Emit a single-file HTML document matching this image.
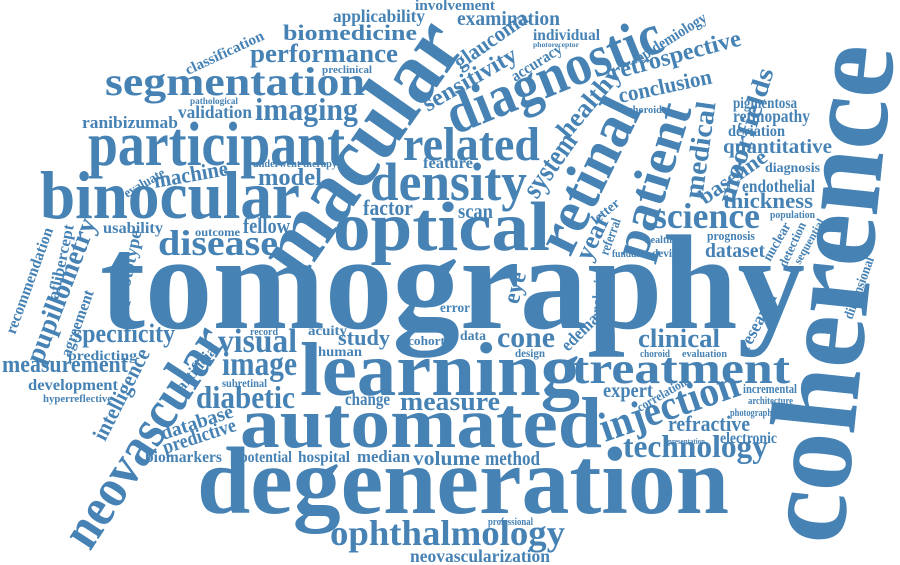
<!DOCTYPE html>
<html><head><meta charset="utf-8"><style>
html,body{margin:0;padding:0;background:#fff;width:900px;height:565px;overflow:hidden}
svg{display:block}
text{font-family:"Liberation Serif",serif;font-weight:bold;fill:#4682b4}
</style></head><body>
<svg width="900" height="565" viewBox="0 0 900 565">
<g>
<text x="100" y="328" font-size="135" textLength="705" lengthAdjust="spacingAndGlyphs">tomography</text>
<text transform="translate(842,546) rotate(-84)" font-size="122" textLength="500" lengthAdjust="spacingAndGlyphs">coherence</text>
<text x="197" y="513" font-size="95" textLength="532" lengthAdjust="spacingAndGlyphs">degeneration</text>
<text x="240" y="447" font-size="72" textLength="362" lengthAdjust="spacingAndGlyphs">automated</text>
<text x="300" y="395" font-size="76" textLength="280" lengthAdjust="spacingAndGlyphs">learning</text>
<text x="572" y="383" font-size="44" textLength="218" lengthAdjust="spacingAndGlyphs">treatment</text>
<text transform="translate(300,283) rotate(-55)" font-size="88" textLength="290" lengthAdjust="spacingAndGlyphs">macular</text>
<text x="40" y="218" font-size="68" textLength="260" lengthAdjust="spacingAndGlyphs">binocular</text>
<text x="88" y="165" font-size="62" textLength="257" lengthAdjust="spacingAndGlyphs">participant</text>
<text x="333" y="250" font-size="70" textLength="217" lengthAdjust="spacingAndGlyphs">optical</text>
<text transform="translate(455,135) rotate(-22)" font-size="58" textLength="228" lengthAdjust="spacingAndGlyphs">diagnostic</text>
<text transform="translate(570,258) rotate(-64)" font-size="60" textLength="165" lengthAdjust="spacingAndGlyphs">retinal</text>
<text x="370" y="200" font-size="54" textLength="157" lengthAdjust="spacingAndGlyphs">density</text>
<text x="403" y="160" font-size="48" textLength="137" lengthAdjust="spacingAndGlyphs">related</text>
<text transform="translate(645,262) rotate(-73)" font-size="52" textLength="160" lengthAdjust="spacingAndGlyphs">patient</text>
<text x="105" y="95" font-size="40" textLength="260" lengthAdjust="spacingAndGlyphs">segmentation</text>
<text transform="translate(90,552) rotate(-57)" font-size="55" textLength="252" lengthAdjust="spacingAndGlyphs">neovascular</text>
<text transform="translate(605,442) rotate(-19)" font-size="42" textLength="145" lengthAdjust="spacingAndGlyphs">injection</text>
<text x="330" y="545" font-size="36" textLength="235" lengthAdjust="spacingAndGlyphs">ophthalmology</text>
<text x="623" y="457" font-size="32" textLength="145" lengthAdjust="spacingAndGlyphs">technology</text>
<text x="668" y="431" font-size="22" textLength="82" lengthAdjust="spacingAndGlyphs">refractive</text>
<text x="653" y="228" font-size="36" textLength="107" lengthAdjust="spacingAndGlyphs">science</text>
<text x="158" y="255" font-size="36" textLength="120" lengthAdjust="spacingAndGlyphs">disease</text>
<text transform="translate(42,365) rotate(-69)" font-size="28" textLength="153" lengthAdjust="spacingAndGlyphs">pupillometry</text>
<text x="218" y="352" font-size="34" textLength="79" lengthAdjust="spacingAndGlyphs">visual</text>
<text x="222" y="375" font-size="34" textLength="75" lengthAdjust="spacingAndGlyphs">image</text>
<text x="196" y="408" font-size="32" textLength="99" lengthAdjust="spacingAndGlyphs">diabetic</text>
<text x="2" y="372" font-size="24" textLength="126" lengthAdjust="spacingAndGlyphs">measurement</text>
<text x="73" y="342" font-size="26" textLength="102" lengthAdjust="spacingAndGlyphs">specificity</text>
<text x="255" y="120" font-size="32" textLength="103" lengthAdjust="spacingAndGlyphs">imaging</text>
<text x="250" y="62" font-size="26" textLength="148" lengthAdjust="spacingAndGlyphs">performance</text>
<text x="283" y="40" font-size="22" textLength="134" lengthAdjust="spacingAndGlyphs">biomedicine</text>
<text transform="translate(428,112) rotate(-30)" font-size="24" textLength="105" lengthAdjust="spacingAndGlyphs">sensitivity</text>
<text transform="translate(537,200) rotate(-55)" font-size="30" textLength="72" lengthAdjust="spacingAndGlyphs">system</text>
<text transform="translate(568,140) rotate(-50)" font-size="26" textLength="85" lengthAdjust="spacingAndGlyphs">healthy</text>
<text x="497" y="347" font-size="30" textLength="58" lengthAdjust="spacingAndGlyphs">cone</text>
<text transform="translate(590,262) rotate(-65)" font-size="26" textLength="48" lengthAdjust="spacingAndGlyphs">year</text>
<text transform="translate(596,225) rotate(-40)" font-size="14" textLength="32" lengthAdjust="spacingAndGlyphs">letter</text>
<text transform="translate(608,256) rotate(-70)" font-size="14" textLength="38" lengthAdjust="spacingAndGlyphs">referral</text>
<text transform="translate(518,305) rotate(-75)" font-size="24" textLength="32" lengthAdjust="spacingAndGlyphs">eye</text>
<text x="338" y="345" font-size="22" textLength="52" lengthAdjust="spacingAndGlyphs">study</text>
<text x="400" y="410" font-size="26" textLength="100" lengthAdjust="spacingAndGlyphs">measure</text>
<text x="413" y="465" font-size="20" textLength="67" lengthAdjust="spacingAndGlyphs">volume</text>
<text x="485" y="465" font-size="20" textLength="55" lengthAdjust="spacingAndGlyphs">method</text>
<text transform="translate(702,200) rotate(-82)" font-size="28" textLength="98" lengthAdjust="spacingAndGlyphs">medical</text>
<text transform="translate(733,205) rotate(-73)" font-size="26" textLength="140" lengthAdjust="spacingAndGlyphs">moorfields</text>
<text transform="translate(612,80) rotate(-15)" font-size="24" textLength="135" lengthAdjust="spacingAndGlyphs">retrospective</text>
<text transform="translate(620,103) rotate(-12)" font-size="22" textLength="95" lengthAdjust="spacingAndGlyphs">conclusion</text>
<text x="628" y="113" font-size="11" textLength="42" lengthAdjust="spacingAndGlyphs">choroidal</text>
<text transform="translate(705,205) rotate(-35)" font-size="22" textLength="78" lengthAdjust="spacingAndGlyphs">baseline</text>
<text x="723" y="208" font-size="22" textLength="90" lengthAdjust="spacingAndGlyphs">thickness</text>
<text x="638" y="347" font-size="26" textLength="82" lengthAdjust="spacingAndGlyphs">clinical</text>
<text transform="translate(748,352) rotate(-62)" font-size="18" textLength="62" lengthAdjust="spacingAndGlyphs">research</text>
<text x="603" y="397" font-size="20" textLength="50" lengthAdjust="spacingAndGlyphs">expert</text>
<text x="723" y="153" font-size="20" textLength="109" lengthAdjust="spacingAndGlyphs">quantitative</text>
<text x="742" y="192" font-size="18" textLength="73" lengthAdjust="spacingAndGlyphs">endothelial</text>
<text x="765" y="172" font-size="14" textLength="55" lengthAdjust="spacingAndGlyphs">diagnosis</text>
<text x="733" y="108" font-size="16" textLength="64" lengthAdjust="spacingAndGlyphs">pigmentosa</text>
<text x="733" y="122" font-size="18" textLength="77" lengthAdjust="spacingAndGlyphs">retinopathy</text>
<text x="728" y="136" font-size="16" textLength="57" lengthAdjust="spacingAndGlyphs">deviation</text>
<text x="770" y="218" font-size="11" textLength="45" lengthAdjust="spacingAndGlyphs">population</text>
<text x="707" y="240" font-size="13" textLength="48" lengthAdjust="spacingAndGlyphs">prognosis</text>
<text x="705" y="257" font-size="20" textLength="60" lengthAdjust="spacingAndGlyphs">dataset</text>
<text transform="translate(770,262) rotate(-60)" font-size="14" textLength="42" lengthAdjust="spacingAndGlyphs">nuclear</text>
<text transform="translate(786,268) rotate(-65)" font-size="13" textLength="48" lengthAdjust="spacingAndGlyphs">detection</text>
<text transform="translate(800,265) rotate(-60)" font-size="12" textLength="50" lengthAdjust="spacingAndGlyphs">sequential</text>
<text transform="translate(155,188) rotate(-10)" font-size="22" textLength="75" lengthAdjust="spacingAndGlyphs">machine</text>
<text transform="translate(127,198) rotate(-30)" font-size="14" textLength="45" lengthAdjust="spacingAndGlyphs">evaluate</text>
<text x="258" y="185" font-size="24" textLength="64" lengthAdjust="spacingAndGlyphs">model</text>
<text x="363" y="215" font-size="22" textLength="50" lengthAdjust="spacingAndGlyphs">factor</text>
<text x="458" y="218" font-size="20" textLength="35" lengthAdjust="spacingAndGlyphs">scan</text>
<text x="423" y="168" font-size="16" textLength="50" lengthAdjust="spacingAndGlyphs">feature</text>
<text x="243" y="233" font-size="22" textLength="47" lengthAdjust="spacingAndGlyphs">fellow</text>
<text transform="translate(163,440) rotate(-18)" font-size="20" textLength="75" lengthAdjust="spacingAndGlyphs">database</text>
<text transform="translate(165,454) rotate(-18)" font-size="20" textLength="76" lengthAdjust="spacingAndGlyphs">predictive</text>
<text transform="translate(105,442) rotate(-63)" font-size="22" textLength="100" lengthAdjust="spacingAndGlyphs">intelligence</text>
<text x="28" y="390" font-size="16" textLength="90" lengthAdjust="spacingAndGlyphs">development</text>
<text x="145" y="462" font-size="16" textLength="77" lengthAdjust="spacingAndGlyphs">biomarkers</text>
<text x="240" y="462" font-size="16" textLength="52" lengthAdjust="spacingAndGlyphs">potential</text>
<text x="298" y="462" font-size="16" textLength="52" lengthAdjust="spacingAndGlyphs">hospital</text>
<text x="357" y="462" font-size="17" textLength="53" lengthAdjust="spacingAndGlyphs">median</text>
<text x="345" y="405" font-size="18" textLength="45" lengthAdjust="spacingAndGlyphs">change</text>
<text x="43" y="402" font-size="11" textLength="69" lengthAdjust="spacingAndGlyphs">hyperreflective</text>
<text x="68" y="360" font-size="14" textLength="69" lengthAdjust="spacingAndGlyphs">predicting</text>
<text x="410" y="562" font-size="18" textLength="140" lengthAdjust="spacingAndGlyphs">neovascularization</text>
<text x="488" y="525" font-size="10" textLength="45" lengthAdjust="spacingAndGlyphs">professional</text>
<text x="457" y="25" font-size="20" textLength="103" lengthAdjust="spacingAndGlyphs">examination</text>
<text x="333" y="22" font-size="18" textLength="92" lengthAdjust="spacingAndGlyphs">applicability</text>
<text x="415" y="10" font-size="15" textLength="80" lengthAdjust="spacingAndGlyphs">involvement</text>
<text transform="translate(460,70) rotate(-35)" font-size="22" textLength="85" lengthAdjust="spacingAndGlyphs">glaucoma</text>
<text transform="translate(515,82) rotate(-32)" font-size="16" textLength="57" lengthAdjust="spacingAndGlyphs">accuracy</text>
<text transform="translate(188,75) rotate(-25)" font-size="15" textLength="85" lengthAdjust="spacingAndGlyphs">classification</text>
<text x="322" y="73" font-size="11" textLength="50" lengthAdjust="spacingAndGlyphs">preclinical</text>
<text x="190" y="104" font-size="9" textLength="48" lengthAdjust="spacingAndGlyphs">pathological</text>
<text x="82" y="128" font-size="17" textLength="96" lengthAdjust="spacingAndGlyphs">ranibizumab</text>
<text x="178" y="118" font-size="18" textLength="74" lengthAdjust="spacingAndGlyphs">validation</text>
<text x="253" y="167" font-size="10" textLength="84" lengthAdjust="spacingAndGlyphs">underwent therapy</text>
<text x="533" y="40" font-size="16" textLength="67" lengthAdjust="spacingAndGlyphs">individual</text>
<text x="533" y="47" font-size="7" textLength="46" lengthAdjust="spacingAndGlyphs">photoreceptor</text>
<text transform="translate(640,63) rotate(-32)" font-size="16" textLength="80" lengthAdjust="spacingAndGlyphs">epidemiology</text>
<text x="720" y="443" font-size="16" textLength="57" lengthAdjust="spacingAndGlyphs">electronic</text>
<text x="743" y="393" font-size="13" textLength="54" lengthAdjust="spacingAndGlyphs">incremental</text>
<text x="748" y="404" font-size="11" textLength="45" lengthAdjust="spacingAndGlyphs">architecture</text>
<text x="730" y="416" font-size="11" textLength="42" lengthAdjust="spacingAndGlyphs">photograph</text>
<text x="668" y="444" font-size="8" textLength="37" lengthAdjust="spacingAndGlyphs">presentation</text>
<text transform="translate(852,320) rotate(-70)" font-size="14" textLength="65" lengthAdjust="spacingAndGlyphs">dimensional</text>
<text transform="translate(15,335) rotate(-70)" font-size="16" textLength="112" lengthAdjust="spacingAndGlyphs">recommendation</text>
<text transform="translate(58,300) rotate(-78)" font-size="16" textLength="76" lengthAdjust="spacingAndGlyphs">aflibercept</text>
<text transform="translate(70,358) rotate(-70)" font-size="16" textLength="70" lengthAdjust="spacingAndGlyphs">agreement</text>
<text transform="translate(126,305) rotate(-78)" font-size="18" textLength="75" lengthAdjust="spacingAndGlyphs">prototype</text>
<text x="103" y="233" font-size="16" textLength="60" lengthAdjust="spacingAndGlyphs">usability</text>
<text x="195" y="236" font-size="12" textLength="45" lengthAdjust="spacingAndGlyphs">outcome</text>
<text transform="translate(568,352) rotate(-45)" font-size="18" textLength="45" lengthAdjust="spacingAndGlyphs">edema</text>
<text transform="translate(600,320) rotate(-85)" font-size="14" textLength="45" lengthAdjust="spacingAndGlyphs">analysis</text>
<text x="318" y="356" font-size="14" textLength="44" lengthAdjust="spacingAndGlyphs">human</text>
<text x="408" y="345" font-size="13" textLength="37" lengthAdjust="spacingAndGlyphs">cohort</text>
<text x="308" y="335" font-size="14" textLength="39" lengthAdjust="spacingAndGlyphs">acuity</text>
<text x="250" y="335" font-size="11" textLength="28" lengthAdjust="spacingAndGlyphs">record</text>
<text x="222" y="387" font-size="12" textLength="45" lengthAdjust="spacingAndGlyphs">subretinal</text>
<text transform="translate(183,392) rotate(-50)" font-size="16" textLength="57" lengthAdjust="spacingAndGlyphs">artificial</text>
<text x="460" y="340" font-size="14" textLength="26" lengthAdjust="spacingAndGlyphs">data</text>
<text x="515" y="357" font-size="12" textLength="30" lengthAdjust="spacingAndGlyphs">design</text>
<text x="640" y="357" font-size="10" textLength="30" lengthAdjust="spacingAndGlyphs">choroid</text>
<text x="682" y="357" font-size="11" textLength="45" lengthAdjust="spacingAndGlyphs">evaluation</text>
<text transform="translate(640,412) rotate(-30)" font-size="13" textLength="55" lengthAdjust="spacingAndGlyphs">correlation</text>
<text x="612" y="257" font-size="11" textLength="28" lengthAdjust="spacingAndGlyphs">fundus</text>
<text x="652" y="257" font-size="12" textLength="30" lengthAdjust="spacingAndGlyphs">device</text>
<text x="645" y="243" font-size="11" textLength="27" lengthAdjust="spacingAndGlyphs">health</text>
<text x="440" y="312" font-size="14" textLength="30" lengthAdjust="spacingAndGlyphs">error</text>
</g>
</svg>
</body></html>
